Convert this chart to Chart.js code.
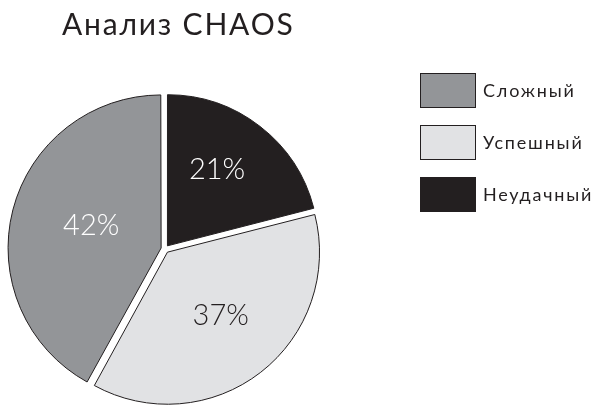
<!DOCTYPE html>
<html lang="ru">
<head>
<meta charset="UTF-8">
<title>Анализ CHAOS</title>
<script src="https://cdn.jsdelivr.net/npm/chart.js@4.4.0/dist/chart.umd.min.js"></script>
<style>
  html, body { margin: 0; padding: 0; background: #fff; }
</style>
</head>
<body>
<canvas id="chart" width="594" height="406"></canvas>
<script>
// legend order (top to bottom)
const categories = ['Сложный', 'Успешный', 'Неудачный'];
const shares = [42, 37, 21];
const colors = ['#939598', '#e1e2e4', '#231f20'];
const labelColors = ['#ffffff', '#231f20', '#ffffff'];
const chartTitle = 'Анализ CHAOS';

// the pie goes clockwise from 12 o'clock in the opposite order
const pieLabels = categories.slice().reverse();
const pieValues = shares.slice().reverse();
const pieColors = colors.slice().reverse();
const pieLabelColors = labelColors.slice().reverse();

const ink = '#231f20';
const family = "Lato, 'Open Sans', sans-serif";

const decorations = {
  id: 'decorations',
  afterDatasetsDraw(chart) {
    const ctx = chart.ctx;
    const meta = chart.getDatasetMeta(0);
    const depth = [0.62, 0.58, 0.51];
    const turn = [-0.07, -0.03, 0.04];
    ctx.save();

    // percentages inside the slices
    ctx.font = '300 29px ' + family;
    ctx.textAlign = 'center';
    ctx.textBaseline = 'alphabetic';
    meta.data.forEach((arc, i) => {
      const p = arc.getProps(['x', 'y', 'startAngle', 'endAngle', 'outerRadius'], true);
      const mid = (p.startAngle + p.endAngle) / 2 + turn[i];
      const r = p.outerRadius * depth[i];
      ctx.fillStyle = pieLabelColors[i];
      ctx.fillText(pieValues[i] + '%', p.x + Math.cos(mid) * r, p.y + Math.sin(mid) * r + 8);
    });

    // title
    ctx.textAlign = 'left';
    ctx.fillStyle = ink;
    ctx.font = '400 30px ' + family;
    ctx.letterSpacing = '1.8px';
    ctx.fillText(chartTitle, 62, 34.5);

    // legend
    ctx.font = '400 18px ' + family;
    ctx.letterSpacing = '1.8px';
    ctx.lineWidth = 1;
    categories.forEach((name, i) => {
      const y = 73 + i * 52;
      ctx.fillStyle = colors[i];
      ctx.fillRect(420, y, 56, 35);
      ctx.strokeStyle = ink;
      ctx.strokeRect(420.5, y + 0.5, 55, 34);
      ctx.fillStyle = ink;
      ctx.fillText(name, 483, y + 24);
    });

    ctx.restore();
  }
};

new Chart(document.getElementById('chart'), {
  type: 'pie',
  data: {
    labels: pieLabels,
    datasets: [{
      data: pieValues,
      backgroundColor: pieColors,
      borderColor: ink,
      borderWidth: 1,
      borderJoinStyle: 'miter',
      offset: 16
    }]
  },
  options: {
    responsive: false,
    animation: false,
    events: [],
    radius: 151,
    layout: { padding: { left: 0, right: 264, top: 92, bottom: 0 } },
    plugins: {
      legend: { display: false },
      title: { display: false },
      tooltip: { enabled: false }
    }
  },
  plugins: [decorations]
});
</script>
</body>
</html>
